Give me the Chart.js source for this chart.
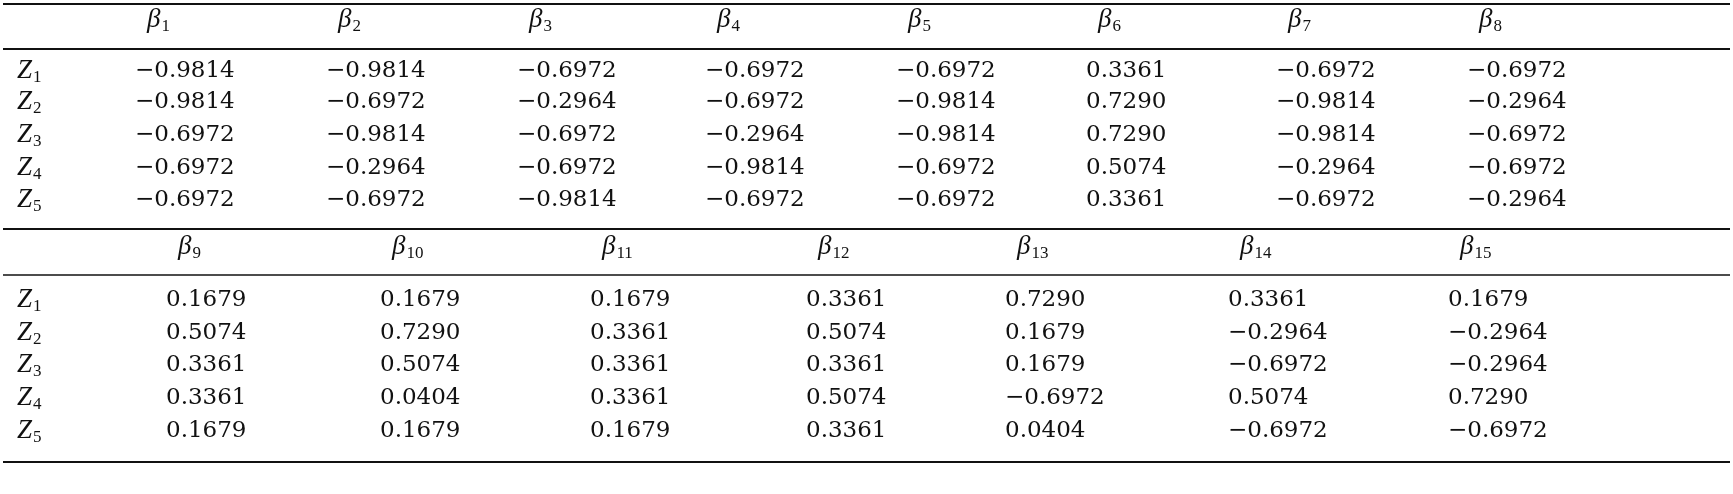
<!DOCTYPE html>
<html>
<head>
<meta charset="utf-8">
<script src="https://cdn.jsdelivr.net/npm/chart.js@4"></script>
<style>
  html, body { margin: 0; padding: 0; background: #fff; }
  #wrap { width: 1733px; height: 494px; }
</style>
</head>
<body>
<div id="wrap"><canvas id="tbl"></canvas></div>
<script>
const rowLabels = ["1", "2", "3", "4", "5"];
const colsTop = ["1", "2", "3", "4", "5", "6", "7", "8"];
const colsBottom = ["9", "10", "11", "12", "13", "14", "15"];

const valuesTop = [
  ["−0.9814", "−0.9814", "−0.6972", "−0.6972", "−0.6972", "0.3361", "−0.6972", "−0.6972"],
  ["−0.9814", "−0.6972", "−0.2964", "−0.6972", "−0.9814", "0.7290", "−0.9814", "−0.2964"],
  ["−0.6972", "−0.9814", "−0.6972", "−0.2964", "−0.9814", "0.7290", "−0.9814", "−0.6972"],
  ["−0.6972", "−0.2964", "−0.6972", "−0.9814", "−0.6972", "0.5074", "−0.2964", "−0.6972"],
  ["−0.6972", "−0.6972", "−0.9814", "−0.6972", "−0.6972", "0.3361", "−0.6972", "−0.2964"],
];
const valuesBottom = [
  ["0.1679", "0.1679", "0.1679", "0.3361", "0.7290", "0.3361", "0.1679"],
  ["0.5074", "0.7290", "0.3361", "0.5074", "0.1679", "−0.2964", "−0.2964"],
  ["0.3361", "0.5074", "0.3361", "0.3361", "0.1679", "−0.6972", "−0.2964"],
  ["0.3361", "0.0404", "0.3361", "0.5074", "−0.6972", "0.5074", "0.7290"],
  ["0.1679", "0.1679", "0.1679", "0.3361", "0.0404", "−0.6972", "−0.6972"],
];

// layout (pixel units of the hidden scales)
const xTop = [135, 326, 517, 705, 896, 1086, 1276, 1467];
const xBottom = [166, 380, 590, 806, 1005, 1228, 1448];
const headTopY = 20, rowsTopY = [71, 102, 135, 168, 200];
const headBotY = 247, rowsBotY = [300, 333, 365, 398, 431];
const rules = [[4, 2.2], [49, 1.8], [229, 2.2], [275, 1.4], [462, 2]];

const NUM_FONT = '500 23px "DejaVu Serif"';
const IT_FONT = 'italic 27px "Liberation Serif"';
const SUB_FONT = '17px "Liberation Serif"';

function symbol(ctx, x, y, base, sub) {
  ctx.font = IT_FONT;
  ctx.fillText(base, x, y);
  const w = ctx.measureText(base).width;
  ctx.font = SUB_FONT;
  ctx.fillText(sub, x + w + 1, y + 7);
}

const tablePlugin = {
  id: "tablePlugin",
  afterDraw(chart) {
    const { ctx, scales: { x, y } } = chart;
    const px = (v) => x.getPixelForValue(v);
    const py = (v) => y.getPixelForValue(v);
    ctx.save();
    ctx.fillStyle = "#111";
    ctx.strokeStyle = "#111";
    for (const [ry, lw] of rules) {
      ctx.lineWidth = lw;
      ctx.beginPath();
      ctx.moveTo(px(3), py(ry));
      ctx.lineTo(px(1730), py(ry));
      ctx.stroke();
    }
    ctx.textBaseline = "middle";
    ctx.textAlign = "left";
    const block = (cols, xs, headY, rowsY, vals) => {
      cols.forEach((c, i) => symbol(ctx, px(xs[i] + 12), py(headY), "β", c));
      rowLabels.forEach((r, j) => {
        symbol(ctx, px(17), py(rowsY[j]), "Z", r);
        ctx.font = NUM_FONT;
        vals[j].forEach((v, i) => ctx.fillText(v, px(xs[i]), py(rowsY[j])));
      });
    };
    block(colsTop, xTop, headTopY, rowsTopY, valuesTop);
    block(colsBottom, xBottom, headBotY, rowsBotY, valuesBottom);
    ctx.restore();
  },
};

new Chart(document.getElementById("tbl"), {
  type: "scatter",
  data: { datasets: [{ data: [] }] },
  options: {
    responsive: true,
    maintainAspectRatio: false,
    animation: false,
    layout: { padding: 0 },
    plugins: { legend: { display: false }, tooltip: { enabled: false } },
    scales: {
      x: { type: "linear", min: 0, max: 1733, display: false },
      y: { type: "linear", min: 0, max: 494, reverse: true, display: false },
    },
  },
  plugins: [tablePlugin],
});
</script>
</body>
</html>
